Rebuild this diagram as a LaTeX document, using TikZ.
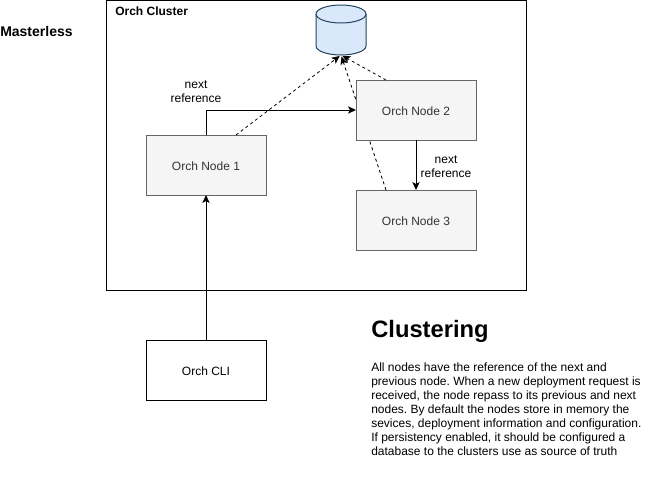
\documentclass[tikz,border=0pt]{standalone}
\usepackage{fontspec}
\setmainfont{Liberation Sans}
\usetikzlibrary{arrows.meta}
\frenchspacing

\definecolor{nodefill}{HTML}{F5F5F5}
\definecolor{nodeline}{HTML}{666666}
\definecolor{nodetext}{HTML}{333333}
\definecolor{dbfill}{HTML}{DAE8FC}
\definecolor{dbline}{HTML}{23445D}

\def\dbrx{18.75pt}
\def\dbry{6.75pt}

\tikzset{
  orchbox/.style={draw=nodeline,fill=nodefill,text=nodetext,line width=0.75pt,
    minimum width=90pt,minimum height=45pt,inner sep=0pt,outer sep=0pt,text height=8pt,font=\fontsize{9}{10.5}\selectfont},
  clibox/.style={orchbox,draw=black,fill=white,text=black},
  dbshape/.style={draw=dbline,fill=dbfill,line width=0.75pt},
  refline/.style={line width=0.75pt,-{Stealth[length=6pt,width=5.5pt,inset=1.5pt]}},
  dashline/.style={refline,line width=0.6pt,shorten >=1.2pt,dash pattern=on 2.25pt off 2.25pt},
  reflabel/.style={align=center,inner sep=0pt,font=\fontsize{9}{10.5}\selectfont}
}

\begin{document}
\begin{tikzpicture}[x=0.75pt,y=-0.75pt]
  \useasboundingbox (0,0) rectangle (647,501);

  \node[draw,line width=0.75pt,minimum width=315pt,minimum height=217.5pt,inner sep=0pt,outer sep=0pt] (cluster) at (316.5,145) {};
  \node[anchor=west,inner sep=0pt,font=\fontsize{9}{10.5}\selectfont\bfseries] (clustername) at (115,11) {Orch Cluster};
  \node[anchor=west,inner sep=0pt,font=\fontsize{10.5}{12}\selectfont\bfseries] (masterless) at (0,31) {Masterless};

  % database
  \node[minimum width=37.5pt,minimum height=37.5pt,inner sep=0pt,outer sep=0pt] (db) at (341,30) {};
  \draw[dbshape] ([yshift=-\dbry]db.north west) arc[start angle=180,end angle=0,x radius=\dbrx,y radius=\dbry]
    -- ([yshift=\dbry]db.south east) arc[start angle=0,end angle=-180,x radius=\dbrx,y radius=\dbry] -- cycle;
  \draw[dbshape,fill=none] ([yshift=-\dbry]db.north west) arc[start angle=180,end angle=360,x radius=\dbrx,y radius=\dbry];

  % the third node goes first, its dashed line passes under node 2
  \node[orchbox] (node3) at (416,220) {Orch Node 3};
  \coordinate (node3top) at (386,190);
  \draw[dashline] (node3top) -- (db.south);

  \foreach \i/\x/\y in {1/206/165,2/416/110}{
    \node[orchbox] (node\i) at (\x,\y) {Orch Node \i};
  }
  \node[clibox] (cli) at (206,370) {Orch CLI};

  \coordinate (node1top) at (236,135);
  \coordinate (node2top) at (386,80);
  \draw[dashline] (node1top) -- (db.south);
  \draw[dashline] (node2top) -- (db.south);

  \draw[refline] (node1.north) |- (node2.west);
  \draw[refline] (node2.south) -- (node3.north);
  \draw[refline] (cli.north) -- (node1.south);

  \node[reflabel] (label1) at (196,92) {next\\reference};
  \node[reflabel] (label2) at (446,166.5) {next\\reference};

  \node[anchor=west,inner sep=0pt,font=\fontsize{17.8}{21}\selectfont\bfseries] (title) at (371,331.5) {Clustering};
  \node[anchor=west,align=left,inner sep=0pt,font=\fontsize{9}{10.5}\selectfont] (body) at (371,409) {All nodes have the reference of the next and\\
    previous node. When a new deployment request is\\
    received, the node repass to its previous and next\\
    nodes. By default the nodes store in memory the\\
    sevices, deployment information and configuration.\\
    If persistency enabled, it should be configured a\\
    database to the clusters use as source of truth};
\end{tikzpicture}
\end{document}
